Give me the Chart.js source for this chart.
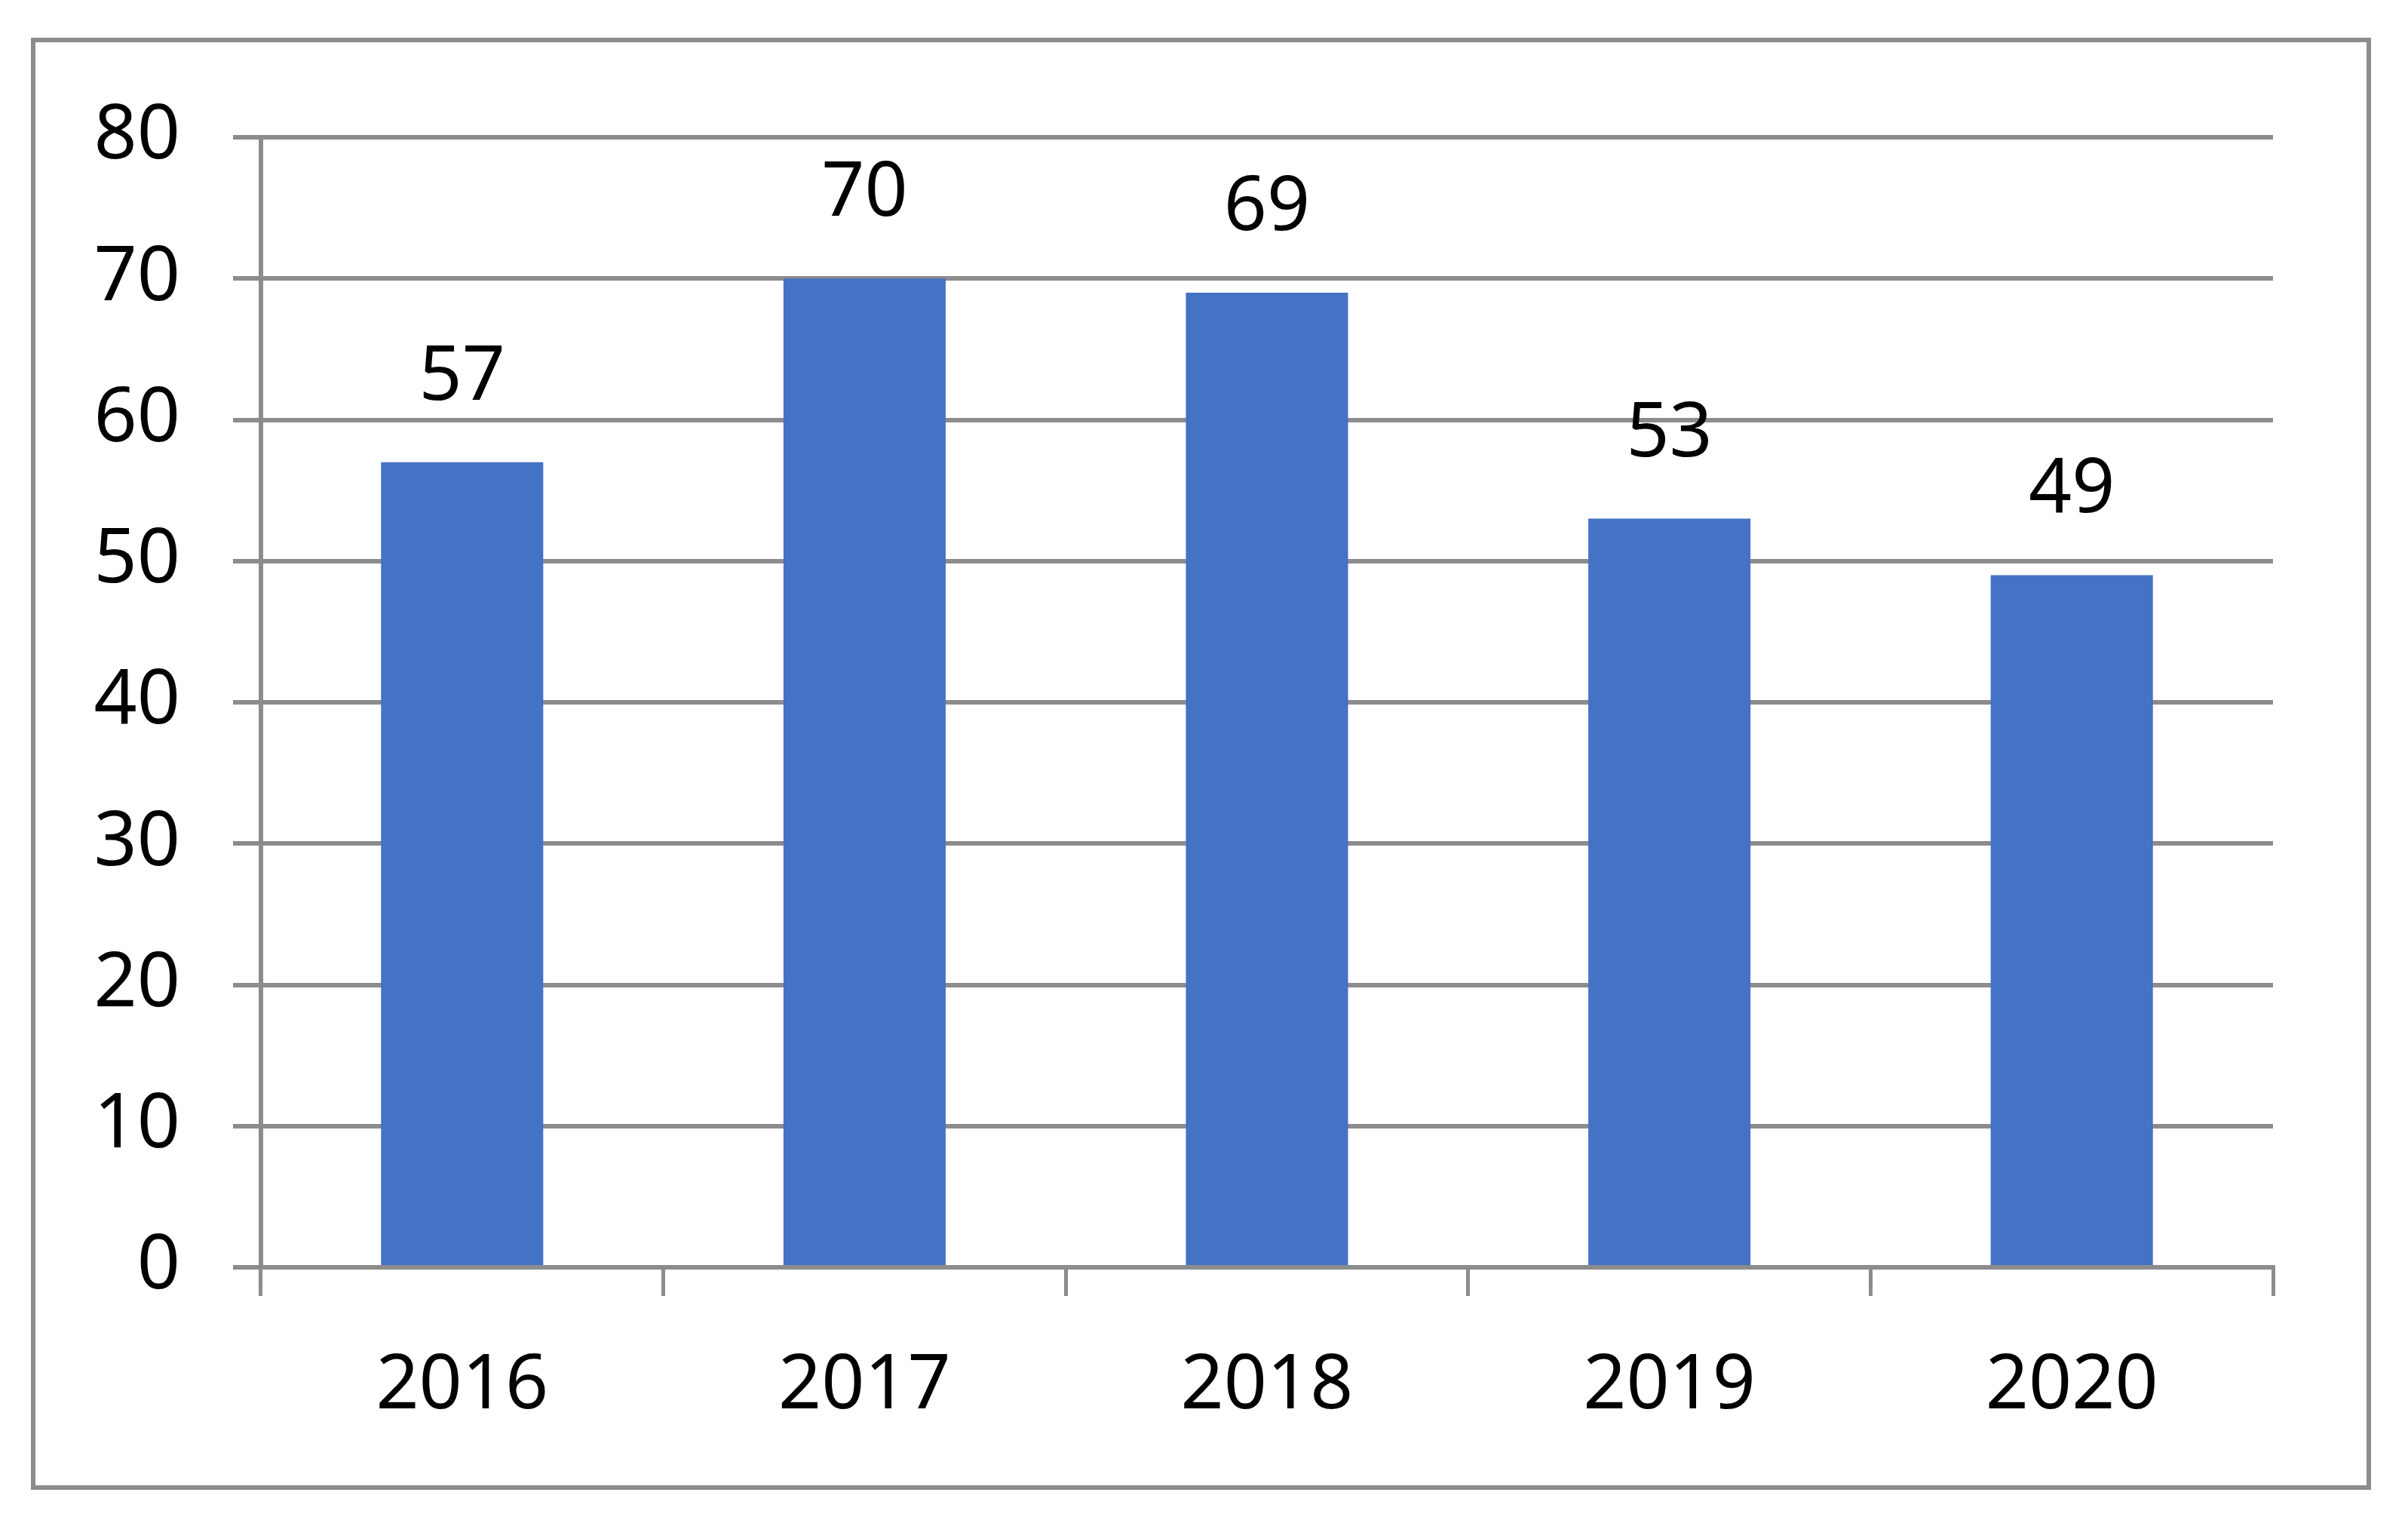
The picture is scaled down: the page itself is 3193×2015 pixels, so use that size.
<!DOCTYPE html>
<html>
<head>
<meta charset="utf-8">
<script src="https://cdn.jsdelivr.net/npm/chart.js@4.4.1/dist/chart.umd.min.js"></script>
<style>
  html, body { margin: 0; padding: 0; background: #fff; }
  canvas { display: block; }
</style>
</head>
<body>
<canvas id="barChart" width="3193" height="2015"></canvas>
<script>
// data
const years = ['2016', '2017', '2018', '2019', '2020'];
const counts = [57, 70, 69, 53, 49];
const yMin = 0;
const yMax = 80;
const yStep = 10;

const GRAY = '#8c8c8c';
const BLUE = '#4472C4';
const FONT = "'Noto Sans', 'Open Sans', sans-serif";

// outer frame around the whole chart
const frame = {
    id: 'frame',
    beforeDraw(chart) {
        const ctx = chart.ctx;
        ctx.save();
        ctx.fillStyle = '#fff';
        ctx.fillRect(0, 0, chart.width, chart.height);
        ctx.strokeStyle = GRAY;
        ctx.lineWidth = 6;
        ctx.strokeRect(44, 53, 3097, 1919);
        ctx.restore();
    }
};

// value above each bar
const valueLabels = {
    id: 'valueLabels',
    afterDatasetsDraw(chart) {
        const ctx = chart.ctx;
        const meta = chart.getDatasetMeta(0);
        ctx.save();
        ctx.font = `100px ${FONT}`;
        ctx.fillStyle = '#000';
        ctx.textAlign = 'center';
        ctx.textBaseline = 'alphabetic';
        meta.data.forEach((bar, i) => {
            ctx.fillText(String(counts[i]), bar.x, bar.y - 83);
        });
        ctx.restore();
    }
};

new Chart(document.getElementById('barChart'), {
    type: 'bar',
    data: {
        labels: years,
        datasets: [{
            data: counts,
            backgroundColor: BLUE,
            borderWidth: 0,
            barPercentage: 0.403,
            categoryPercentage: 1.0
        }]
    },
    options: {
        responsive: false,
        animation: false,
        layout: { padding: { top: 182, right: 179, left: 0, bottom: 0 } },
        plugins: {
            legend: { display: false },
            tooltip: { enabled: false }
        },
        scales: {
            x: {
                offset: true,
                grid: {
                    offset: true,
                    drawOnChartArea: false,
                    drawTicks: true,
                    tickLength: 38,
                    color: GRAY,
                    lineWidth: 5
                },
                border: { display: true, color: GRAY, width: 6 },
                ticks: {
                    color: '#000',
                    font: { family: FONT, size: 100 },
                    padding: 61,
                    maxRotation: 0
                },
                afterFit(scale) { scale.height = 2015 - 1680; }
            },
            y: {
                min: yMin,
                max: yMax,
                grid: {
                    color: GRAY,
                    lineWidth: 6,
                    drawTicks: true,
                    tickLength: 37
                },
                border: { display: true, color: GRAY, width: 6 },
                ticks: {
                    stepSize: yStep,
                    color: '#000',
                    font: { family: FONT, size: 100 },
                    padding: 70
                },
                afterFit(scale) { scale.width = 346; }
            }
        }
    },
    plugins: [frame, valueLabels]
});
</script>
</body>
</html>
